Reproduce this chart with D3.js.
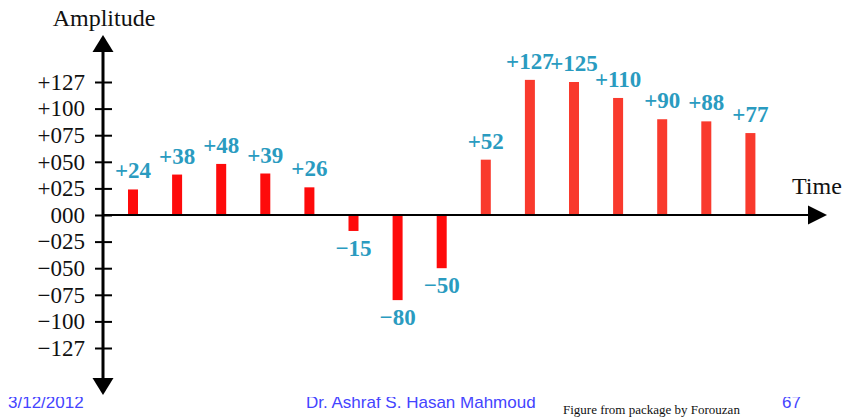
<!DOCTYPE html>
<html>
<head>
<meta charset="utf-8">
<script src="https://cdn.jsdelivr.net/npm/d3@7/dist/d3.min.js"></script>
<style>
  html, body { margin: 0; padding: 0; background: #fff; }
  svg { display: block; }
</style>
</head>
<body>
<svg id="chart" width="851" height="418"></svg>
<script>
// PCM sample amplitudes along the time axis
const samples = [24, 38, 48, 39, 26, -15, -80, -50, 52, 127, 125, 110, 90, 88, 77];
const sampleIndex = samples.map((_, i) => i);

// Amplitude axis: evenly spaced tick slots and the labels printed at them
const tickSlots = [125, 100, 75, 50, 25, 0, -25, -50, -75, -100, -125];
const tickLabels = ["+127", "+100", "+075", "+050", "+025", "000", "\u2212025", "\u2212050", "\u2212075", "\u2212100", "\u2212127"];

const svg = d3.select("#chart");
const serif = "'Liberation Serif', 'Times New Roman', serif";
const sans = "'Liberation Sans', Arial, sans-serif";

const axisX = 103;          // vertical axis position
const x = d3.scalePoint().domain(sampleIndex).range([133, 750.4]);
const y = d3.scaleLinear().domain([-125, 125]).range([348, 82]);
const y0 = y(0);
const barW = 10;

// Bars (first group pure red, later ones slightly warmer)
svg.append("g")
  .selectAll("rect")
  .data(samples)
  .join("rect")
  .attr("x", (d, i) => x(i) - barW / 2)
  .attr("width", barW)
  .attr("y", d => Math.min(y(d), y0))
  .attr("height", d => Math.abs(y(d) - y0))
  .attr("fill", (d, i) => i < 8 ? "#fe0b0b" : "#f93a2d");

// Value labels
svg.append("g")
  .selectAll("text")
  .data(samples)
  .join("text")
  .attr("x", (d, i) => x(i))
  .attr("y", d => d >= 0 ? y(d) - 11 : y(d) + 25)
  .attr("text-anchor", "middle")
  .attr("font-family", serif)
  .attr("font-weight", "bold")
  .attr("font-size", 23)
  .attr("fill", "#2a9bc0")
  .text(d => d >= 0 ? "+" + d : "\u2212" + Math.abs(d));

// Horizontal (time) axis with arrow
svg.append("line")
  .attr("x1", axisX).attr("x2", 810)
  .attr("y1", y0).attr("y2", y0)
  .attr("stroke", "#000").attr("stroke-width", 2);
svg.append("path")
  .attr("d", `M808,${y0 - 9.5}L827,${y0}L808,${y0 + 9.5}Z`)
  .attr("fill", "#000");

// Vertical (amplitude) axis
const yAxis = d3.axisLeft(y)
  .tickValues(tickSlots)
  .tickFormat((d, i) => tickLabels[i])
  .tickSize(8)
  .tickPadding(10);

const gy = svg.append("g")
  .attr("transform", `translate(${axisX},0)`)
  .call(yAxis);
gy.select(".domain").remove();
gy.selectAll(".tick line")
  .attr("x1", 9).attr("x2", -8)
  .attr("stroke", "#000").attr("stroke-width", 2);
gy.selectAll(".tick text")
  .attr("font-family", serif)
  .attr("font-size", 23)
  .attr("fill", "#111");

svg.append("line")
  .attr("x1", axisX).attr("x2", axisX)
  .attr("y1", 50).attr("y2", 380)
  .attr("stroke", "#000").attr("stroke-width", 3);
svg.append("path")
  .attr("d", `M${axisX - 10.5},52L${axisX},35L${axisX + 10.5},52Z`)
  .attr("fill", "#000");
svg.append("path")
  .attr("d", `M${axisX - 10.5},378L${axisX},395L${axisX + 10.5},378Z`)
  .attr("fill", "#000");

// Axis titles
svg.append("text")
  .attr("x", 104).attr("y", 26)
  .attr("text-anchor", "middle")
  .attr("font-family", serif).attr("font-size", 24)
  .attr("fill", "#111")
  .text("Amplitude");
svg.append("text")
  .attr("x", 792).attr("y", 194)
  .attr("font-family", serif).attr("font-size", 24)
  .attr("fill", "#111")
  .text("Time");

// Slide footer, partly hidden under the figure
svg.append("defs").append("clipPath").attr("id", "footerClip")
  .append("rect").attr("x", 0).attr("y", 397).attr("width", 851).attr("height", 30);
const footer = svg.append("g").attr("clip-path", "url(#footerClip)");
footer.append("text")
  .attr("x", 8).attr("y", 408)
  .attr("font-family", sans).attr("font-size", 17).attr("fill", "#4444ff")
  .text("3/12/2012");
footer.append("text")
  .attr("x", 306).attr("y", 408)
  .attr("font-family", sans).attr("font-size", 17).attr("fill", "#4444ff")
  .text("Dr. Ashraf S. Hasan Mahmoud");
footer.append("text")
  .attr("x", 782).attr("y", 408)
  .attr("font-family", sans).attr("font-size", 17).attr("fill", "#4444ff")
  .text("67");
svg.append("text")
  .attr("x", 563).attr("y", 414)
  .attr("font-family", serif).attr("font-size", 13).attr("fill", "#111")
  .text("Figure from package by Forouzan");
</script>
</body>
</html>
